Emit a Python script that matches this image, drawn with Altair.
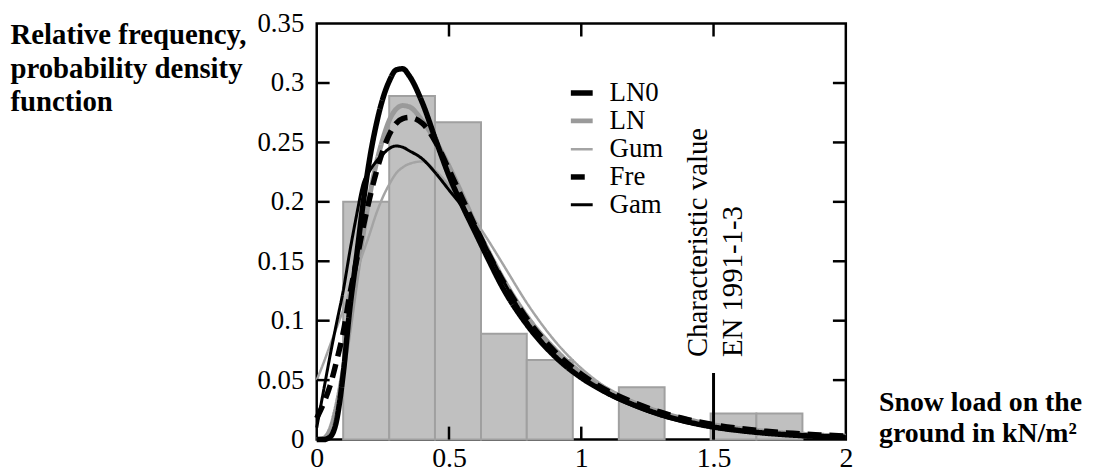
import altair as alt
import pandas as pd

FONT = "Liberation Serif"

# ---------------- data ----------------
x_grid = [0, 0.025, 0.05, 0.075, 0.1, 0.125, 0.15, 0.175, 0.2, 0.225, 0.25, 0.275,
          0.3, 0.325, 0.35, 0.4, 0.45, 0.5, 0.55, 0.6, 0.65, 0.7, 0.8, 0.9, 1.0,
          1.1, 1.2, 1.3, 1.4, 1.5, 1.6, 1.7, 1.8, 1.9, 2.0]

ln0_pdf = [0, 0, 0.002, 0.016, 0.055, 0.11, 0.153, 0.198, 0.236, 0.265, 0.287, 0.302,
           0.311, 0.312, 0.306, 0.283, 0.252, 0.222, 0.197, 0.174, 0.151, 0.129, 0.095, 0.07, 0.052,
           0.039, 0.029, 0.021, 0.015, 0.0105, 0.0075, 0.0053, 0.0037, 0.0026, 0.0018]

ln_pdf = [0, 0.001, 0.008, 0.028, 0.058, 0.095, 0.135, 0.172, 0.205, 0.232, 0.253, 0.269,
          0.278, 0.281, 0.28, 0.268, 0.251, 0.23, 0.206, 0.181, 0.158, 0.137, 0.102, 0.076, 0.056,
          0.042, 0.031, 0.023, 0.017, 0.0125, 0.0092, 0.0068, 0.005, 0.0037, 0.0028]

gum_pdf = [0.05, 0.064, 0.079, 0.094, 0.109, 0.125, 0.141, 0.157, 0.173, 0.19, 0.204, 0.215,
           0.224, 0.229, 0.232, 0.234, 0.226, 0.214, 0.2, 0.184, 0.167, 0.149, 0.113, 0.083, 0.06,
           0.043, 0.031, 0.022, 0.0155, 0.011, 0.0076, 0.0053, 0.0037, 0.0026, 0.0018]

fre_pdf = [0.018, 0.03, 0.045, 0.066, 0.09, 0.122, 0.15, 0.178, 0.203, 0.225, 0.243, 0.257,
           0.266, 0.27, 0.271, 0.266, 0.25, 0.227, 0.203, 0.179, 0.156, 0.135, 0.1, 0.074, 0.055,
           0.041, 0.031, 0.023, 0.017, 0.0125, 0.0093, 0.0069, 0.0052, 0.0039, 0.003]

gam_pdf = [0.01, 0.04, 0.07, 0.098, 0.125, 0.158, 0.188, 0.215, 0.226, 0.234, 0.24, 0.245,
           0.247, 0.246, 0.243, 0.236, 0.224, 0.21, 0.196, 0.18, 0.158, 0.136, 0.098, 0.071, 0.052,
           0.038, 0.028, 0.02, 0.014, 0.0098, 0.007, 0.0049, 0.0034, 0.0024, 0.0017]

series_names = ["LN0", "LN", "Gum", "Fre", "Gam"]
draw_order = ["LN", "Gum", "Gam", "LN0", "Fre"]

bin_start = [0.1, 0.274, 0.447, 0.621, 0.794, 0.968, 1.142, 1.315, 1.489, 1.662]
bin_end = [0.274, 0.447, 0.621, 0.794, 0.968, 1.142, 1.315, 1.489, 1.662, 1.836]
rel_freq = [0.2, 0.289, 0.267, 0.089, 0.067, 0.0, 0.044, 0.0, 0.022, 0.022]

y_ticks = [0, 0.05, 0.1, 0.15, 0.2, 0.25, 0.3, 0.35]
x_ticks = [0, 0.5, 1, 1.5, 2]

char_value = 1.5
char_marker_top = 0.056
annotation_lines = ["Characteristic value", "EN 1991-1-3"]

y_title = ["Relative frequency,", "probability density", "function"]
x_title = ["Snow load on the", "ground in kN/m\u00b2"]

# ---------------- styles ----------------
series_colors = ["#000000", "#9a9a9a", "#a4a4a4", "#000000", "#000000"]
series_widths = [5.5, 5, 2.5, 5.5, 3]
series_dashes = [[1, 0], [1, 0], [1, 0], [14, 8], [1, 0]]

W, H = 533, 419
TICK = 13

# ---------------- tables ----------------
values = {"LN0": ln0_pdf, "LN": ln_pdf, "Gum": gum_pdf, "Fre": fre_pdf, "Gam": gam_pdf}
rows = []
for name in draw_order:
    for xv, pv in zip(x_grid, values[name]):
        rows.append({"dist": name, "x": xv, "pdf": pv})
curves = pd.DataFrame(rows)

hist = pd.DataFrame({"start": bin_start, "end": bin_end, "freq": rel_freq})
char_df = pd.DataFrame({"x": [char_value], "top": [char_marker_top], "base": [0.0]})
ytick_df = pd.DataFrame({"v": [v for v in y_ticks if 0 < v < max(y_ticks)]})
xtick_df = pd.DataFrame({"v": [v for v in x_ticks if 0 < v < max(x_ticks)]})

xs = alt.Scale(domain=[min(x_ticks), max(x_ticks)], nice=False)
ys = alt.Scale(domain=[min(y_ticks), max(y_ticks)], nice=False)

x_axis = alt.Axis(
    values=x_ticks, format="~g", grid=False, domain=False, ticks=False, tickSize=0,
    labelFont=FONT, labelFontSize=28, labelColor="black", labelPadding=5, labelFlush=False,
    title=x_title, titleFont=FONT, titleFontSize=28, titleFontWeight="bold", titleColor="black",
    titleAngle=0, titleAlign="left", titleBaseline="alphabetic", titleX=566, titleY=-29,
    titleLineHeight=31,
)
y_axis = alt.Axis(
    values=y_ticks, format="~g", grid=False, domain=False, ticks=False, tickSize=0,
    labelFont=FONT, labelFontSize=27, labelColor="black", labelPadding=13,
    title=y_title, titleFont=FONT, titleFontSize=29, titleFontWeight="bold", titleColor="black",
    titleAngle=0, titleAlign="left", titleBaseline="alphabetic", titleX=-309, titleY=20,
    titleLineHeight=34,
)

legend = alt.Legend(
    title=None, orient="none", legendX=253, legendY=56, symbolType="stroke", symbolSize=484,
    labelFont=FONT, labelFontSize=27, labelColor="black", labelOffset=14, rowPadding=0.5,
    padding=0, labelBaseline="middle",
)


def X(field):
    return alt.X(field, scale=xs, axis=x_axis)


def Y(field):
    return alt.Y(field, scale=ys, axis=y_axis)


bars = alt.Chart(hist).transform_filter("datum.freq > 0").transform_calculate(base="0").mark_rect(
    fill="#c0c0c0", stroke="#a0a0a0", strokeWidth=2
).encode(
    x=X("start:Q"),
    x2="end:Q",
    y=Y("freq:Q"),
    y2="base:Q",
)

lines = alt.Chart(curves).mark_line(interpolate="monotone", strokeCap="butt").encode(
    x=X("x:Q"),
    y=Y("pdf:Q"),
    color=alt.Color("dist:N", scale=alt.Scale(domain=series_names, range=series_colors), legend=legend),
    strokeDash=alt.StrokeDash("dist:N", scale=alt.Scale(domain=series_names, range=series_dashes), legend=legend),
    strokeWidth=alt.StrokeWidth("dist:N", scale=alt.Scale(type="ordinal", domain=series_names, range=series_widths), legend=legend),
)

char_rule = alt.Chart(char_df).mark_rule(color="black", strokeWidth=3).encode(
    x=X("x:Q"),
    y=Y("base:Q"),
    y2="top:Q",
)

char_text = alt.Chart(char_df).mark_text(
    text=annotation_lines, angle=270, align="left", baseline="alphabetic",
    font=FONT, fontSize=29, lineHeight=36, dx=16, dy=-7, color="black",
).encode(
    x=X("x:Q"),
    y=Y("top:Q"),
)

left_ticks = alt.Chart(ytick_df).mark_rule(color="black", strokeWidth=2.5).encode(
    y=Y("v:Q"), x=alt.value(0), x2=alt.value(TICK))
right_ticks = alt.Chart(ytick_df).mark_rule(color="black", strokeWidth=2.5).encode(
    y=Y("v:Q"), x=alt.value(W - TICK), x2=alt.value(W))
bottom_ticks = alt.Chart(xtick_df).mark_rule(color="black", strokeWidth=2.5).encode(
    x=X("v:Q"), y=alt.value(H - TICK), y2=alt.value(H))
top_ticks = alt.Chart(xtick_df).mark_rule(color="black", strokeWidth=2.5).encode(
    x=X("v:Q"), y=alt.value(0), y2=alt.value(TICK))

chart = alt.layer(
    bars, lines, char_rule, char_text, left_ticks, right_ticks, bottom_ticks, top_ticks
).properties(
    width=W, height=H,
    padding={"left": 311, "top": 14, "right": 248, "bottom": 31},
    autosize=alt.AutoSizeParams(type="none"),
).configure_view(stroke="black", strokeWidth=2.5)

chart.save("out.html", embed_options={"renderer": "svg", "actions": False})
